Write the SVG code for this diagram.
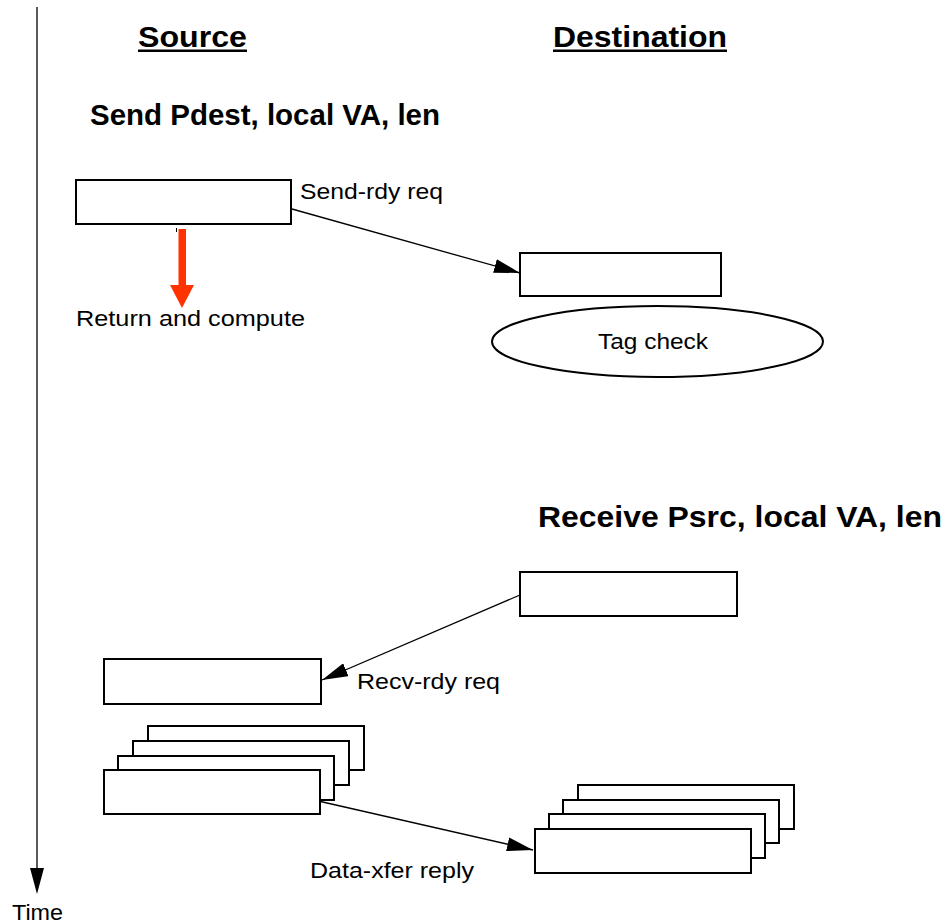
<svg xmlns="http://www.w3.org/2000/svg" width="949" height="924" viewBox="0 0 949 924">
  <style>
    .box { fill: #ffffff; stroke: #000000; stroke-width: 2; }
    .conn { fill: none; stroke: #000000; stroke-width: 1.3; }
    .head { font-family: "Liberation Sans", Arial, sans-serif; font-weight: bold; font-size: 29px; fill: #000000; }
    .lbl { font-family: "Liberation Sans", Arial, sans-serif; font-size: 22px; fill: #000000; }
  </style>
  <defs>
    <marker id="arrow" viewBox="0 0 26 14" refX="26" refY="7" markerWidth="26" markerHeight="14" markerUnits="userSpaceOnUse" orient="auto">
      <path d="M0,0 L26,7 L0,14 Z" fill="#000000"/>
    </marker>
  </defs>

  <!-- time axis -->
  <g id="time-axis">
    <line x1="37" y1="7" x2="37" y2="870" stroke="#222222" stroke-width="1.5"/>
    <path d="M30,868 L44,868 L37,894 Z" fill="#000000"/>
    <text class="lbl" x="12" y="920" textLength="51" lengthAdjust="spacingAndGlyphs">Time</text>
  </g>

  <!-- column headings -->
  <g id="heading-source">
    <text class="head" x="138" y="47" textLength="109" lengthAdjust="spacingAndGlyphs">Source</text>
    <rect x="138" y="49.5" width="109" height="2.5" fill="#000000"/>
  </g>
  <g id="heading-destination">
    <text class="head" x="553" y="47" textLength="174" lengthAdjust="spacingAndGlyphs">Destination</text>
    <rect x="553" y="49.5" width="174" height="2.5" fill="#000000"/>
  </g>

  <g id="send-call">
    <text class="head" x="90" y="125" textLength="350" lengthAdjust="spacingAndGlyphs">Send Pdest, local VA, len</text>
  </g>
  <g id="receive-call">
    <text class="head" x="538" y="527" textLength="404" lengthAdjust="spacingAndGlyphs">Receive Psrc, local VA, len</text>
  </g>

  <!-- source send request -->
  <g id="src-send">
    <rect class="box" x="76" y="180" width="215" height="44"/>
    <line x1="176.5" y1="228" x2="176.5" y2="232" stroke="#000000" stroke-width="1"/>
  </g>

  <!-- return and compute -->
  <g id="return-compute">
    <rect x="178.5" y="229" width="7.5" height="57" fill="#ff3300"/>
    <path d="M170,285 L194,285 L182,308 Z" fill="#ff3300"/>
    <text class="lbl" x="76" y="326" textLength="229" lengthAdjust="spacingAndGlyphs">Return and compute</text>
  </g>

  <!-- destination receives send-ready -->
  <g id="dst-send-rdy">
    <rect class="box" x="520" y="253" width="201" height="43"/>
  </g>
  <g id="tag-check">
    <ellipse cx="657.5" cy="341.5" rx="165.5" ry="35.5" fill="#ffffff" stroke="#000000" stroke-width="2"/>
    <text class="lbl" x="598" y="348.5" textLength="110" lengthAdjust="spacingAndGlyphs">Tag check</text>
  </g>

  <!-- destination receive request -->
  <g id="dst-recv">
    <rect class="box" x="520" y="572" width="217" height="44"/>
  </g>

  <!-- source receives recv-ready -->
  <g id="src-recv-rdy">
    <rect class="box" x="104" y="659" width="217" height="45"/>
  </g>

  <!-- source data packets -->
  <g id="src-data">
    <rect class="box" x="148" y="726" width="216" height="44"/>
    <rect class="box" x="133" y="741" width="216" height="44"/>
    <rect class="box" x="118" y="756" width="216" height="44"/>
    <rect class="box" x="104" y="770" width="216" height="44"/>
  </g>

  <!-- destination data packets -->
  <g id="dst-data">
    <rect class="box" x="578" y="785" width="216" height="44"/>
    <rect class="box" x="563" y="800" width="216" height="43"/>
    <rect class="box" x="549" y="814" width="216" height="44"/>
    <rect class="box" x="535" y="829" width="216" height="44"/>
  </g>

  <!-- connectors -->
  <g id="connectors">
    <line class="conn" x1="292" y1="209" x2="520" y2="273" marker-end="url(#arrow)"/>
    <text class="lbl" x="300" y="198.5" textLength="143" lengthAdjust="spacingAndGlyphs">Send-rdy req</text>

    <line class="conn" x1="520" y1="595" x2="322" y2="680" marker-end="url(#arrow)"/>
    <text class="lbl" x="357" y="689" textLength="143" lengthAdjust="spacingAndGlyphs">Recv-rdy req</text>

    <line class="conn" x1="320.5" y1="801.5" x2="533" y2="850" marker-end="url(#arrow)"/>
    <text class="lbl" x="310" y="878" textLength="164" lengthAdjust="spacingAndGlyphs">Data-xfer reply</text>
  </g>
</svg>
